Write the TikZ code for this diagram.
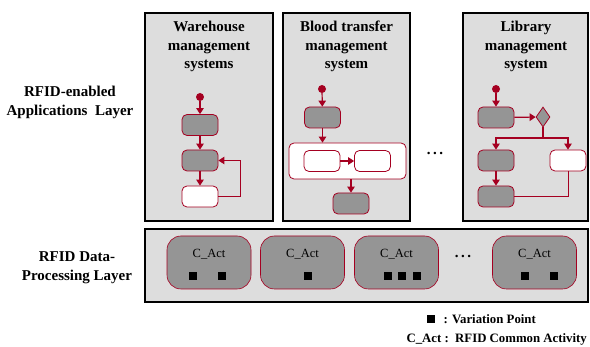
\documentclass[tikz,border=0pt]{standalone}
\usepackage{fontspec}
\setmainfont{Liberation Serif}
\usetikzlibrary{arrows.meta,shapes.geometric}
\definecolor{actred}{HTML}{A50021}
\definecolor{actgray}{HTML}{959595}
\definecolor{panelgray}{HTML}{DDDDDD}
\begin{document}
\begin{tikzpicture}[x=1pt,y=-1pt,
    panel/.style={draw=black,line width=1.6pt,fill=panelgray},
    title/.style={align=center,font=\fontsize{15}{18.5}\selectfont\bfseries},
    act/.style={draw=actred,line width=0.8pt,fill=actgray,rounded corners=5pt,minimum width=36pt,minimum height=21pt,inner sep=0pt},
    wact/.style={act,fill=white},
    init/.style={circle,fill=actred,inner sep=0pt,minimum size=8pt},
    flow/.style={draw=actred,line width=1.2pt,-{Triangle[length=6pt,width=7.5pt]}},
    cact/.style={draw=actred,line width=0.6pt,fill=actgray,rounded corners=14pt,minimum width=84pt,minimum height=53pt},
    vp/.style={fill=black,inner sep=0pt,minimum size=8pt},
    small/.style={font=\fontsize{12.5}{15}\selectfont},
    key/.style={anchor=west,font=\fontsize{12.8}{15}\selectfont\bfseries}]
    \useasboundingbox (0,0) rectangle (590,347);

    \draw[panel](145,13)rectangle(273,221);
    \draw[panel](283,13)rectangle(410,221);
    \draw[panel](463,13)rectangle(588,221);
    \draw[panel](145,229)rectangle(588,302);

    \node[title](lay1)at(70,102.5){RFID-enabled\\Applications~~Layer};
    \node[title](lay2)at(77,267.5){RFID Data-\\Processing Layer};

    \node[title](t1)at(209,46.5){Warehouse\\management\\systems};
    \node[init](s1)at(200,97){};
    \node[act](a1)at(200,125){};
    \node[act](a2)at(200,160.5){};
    \node[wact](a3)at(200,196.5){};
    \draw[flow](s1)--(a1);
    \draw[flow](a1)--(a2);
    \draw[flow](a2)--(a3);
    \draw[flow](a3.east)--++(22,0)|-(a2.east);

    \node[title](t2)at(346.5,46.5){Blood transfer\\management\\system};
    \node[init](s2)at(322,89){};
    \node[act](b1)at(322.5,117.5){};
    \node[wact,minimum width=117pt,minimum height=36pt](cont)at(347.5,161){};
    \node[wact](b2)at(322,161){};
    \node[wact](b3)at(372.5,161){};
    \node[act](b4)at(351,203.5){};
    \draw[flow](s2)--(b1);
    \draw[flow](b1.south)--(b1.south|-cont.north);
    \draw[flow](b2)--(b3);
    \draw[flow](b4.north|-cont.south)--(b4.north);

    \node[title](dots1)at(435,153){.\,.\,.};

    \node[title](t3)at(526,46.5){Library\\management\\system};
    \node[init](s3)at(496,89){};
    \node[act](c1)at(496,117.5){};
    \node[diamond,draw=actred,line width=0.8pt,fill=actgray,inner sep=0pt,minimum width=14pt,minimum height=20pt](dm)at(543,117){};
    \node[act](c2)at(496,160.5){};
    \node[wact](c4)at(568,160.5){};
    \node[act](c3)at(496,196.5){};
    \coordinate(br)at(543,138);
    \draw[flow](s3)--(c1);
    \draw[flow](c1)--(dm);
    \draw[flow](dm.south)--(br)-|(c2.north);
    \draw[flow](br)-|(c4.north);
    \draw[flow](c2)--(c3);
    \draw[draw=actred,line width=0.7pt](c4.south)|-(c3.east);

    \foreach \x[count=\i] in {209,302.5,396.5,534.5}{
        \node[cact](ca\i)at(\x,262.5){};
        \node[small](lb\i)at(\x,254){C\_Act};
    }
    \foreach \x[count=\i] in {192.5,221.7,308.2,387.5,401.8,416.5,524.8,553.8}
        \node[vp](vp\i)at(\x,276){};
    \node[title](dots2)at(463,256){.\,.\,.};

    \node[vp](key)at(431,319){};
    \node[key](keyt)at(440,319){: Variation Point};
    \node[key](cat)at(403,339){C\_Act :~~RFID Common Activity};
\end{tikzpicture}
\end{document}
